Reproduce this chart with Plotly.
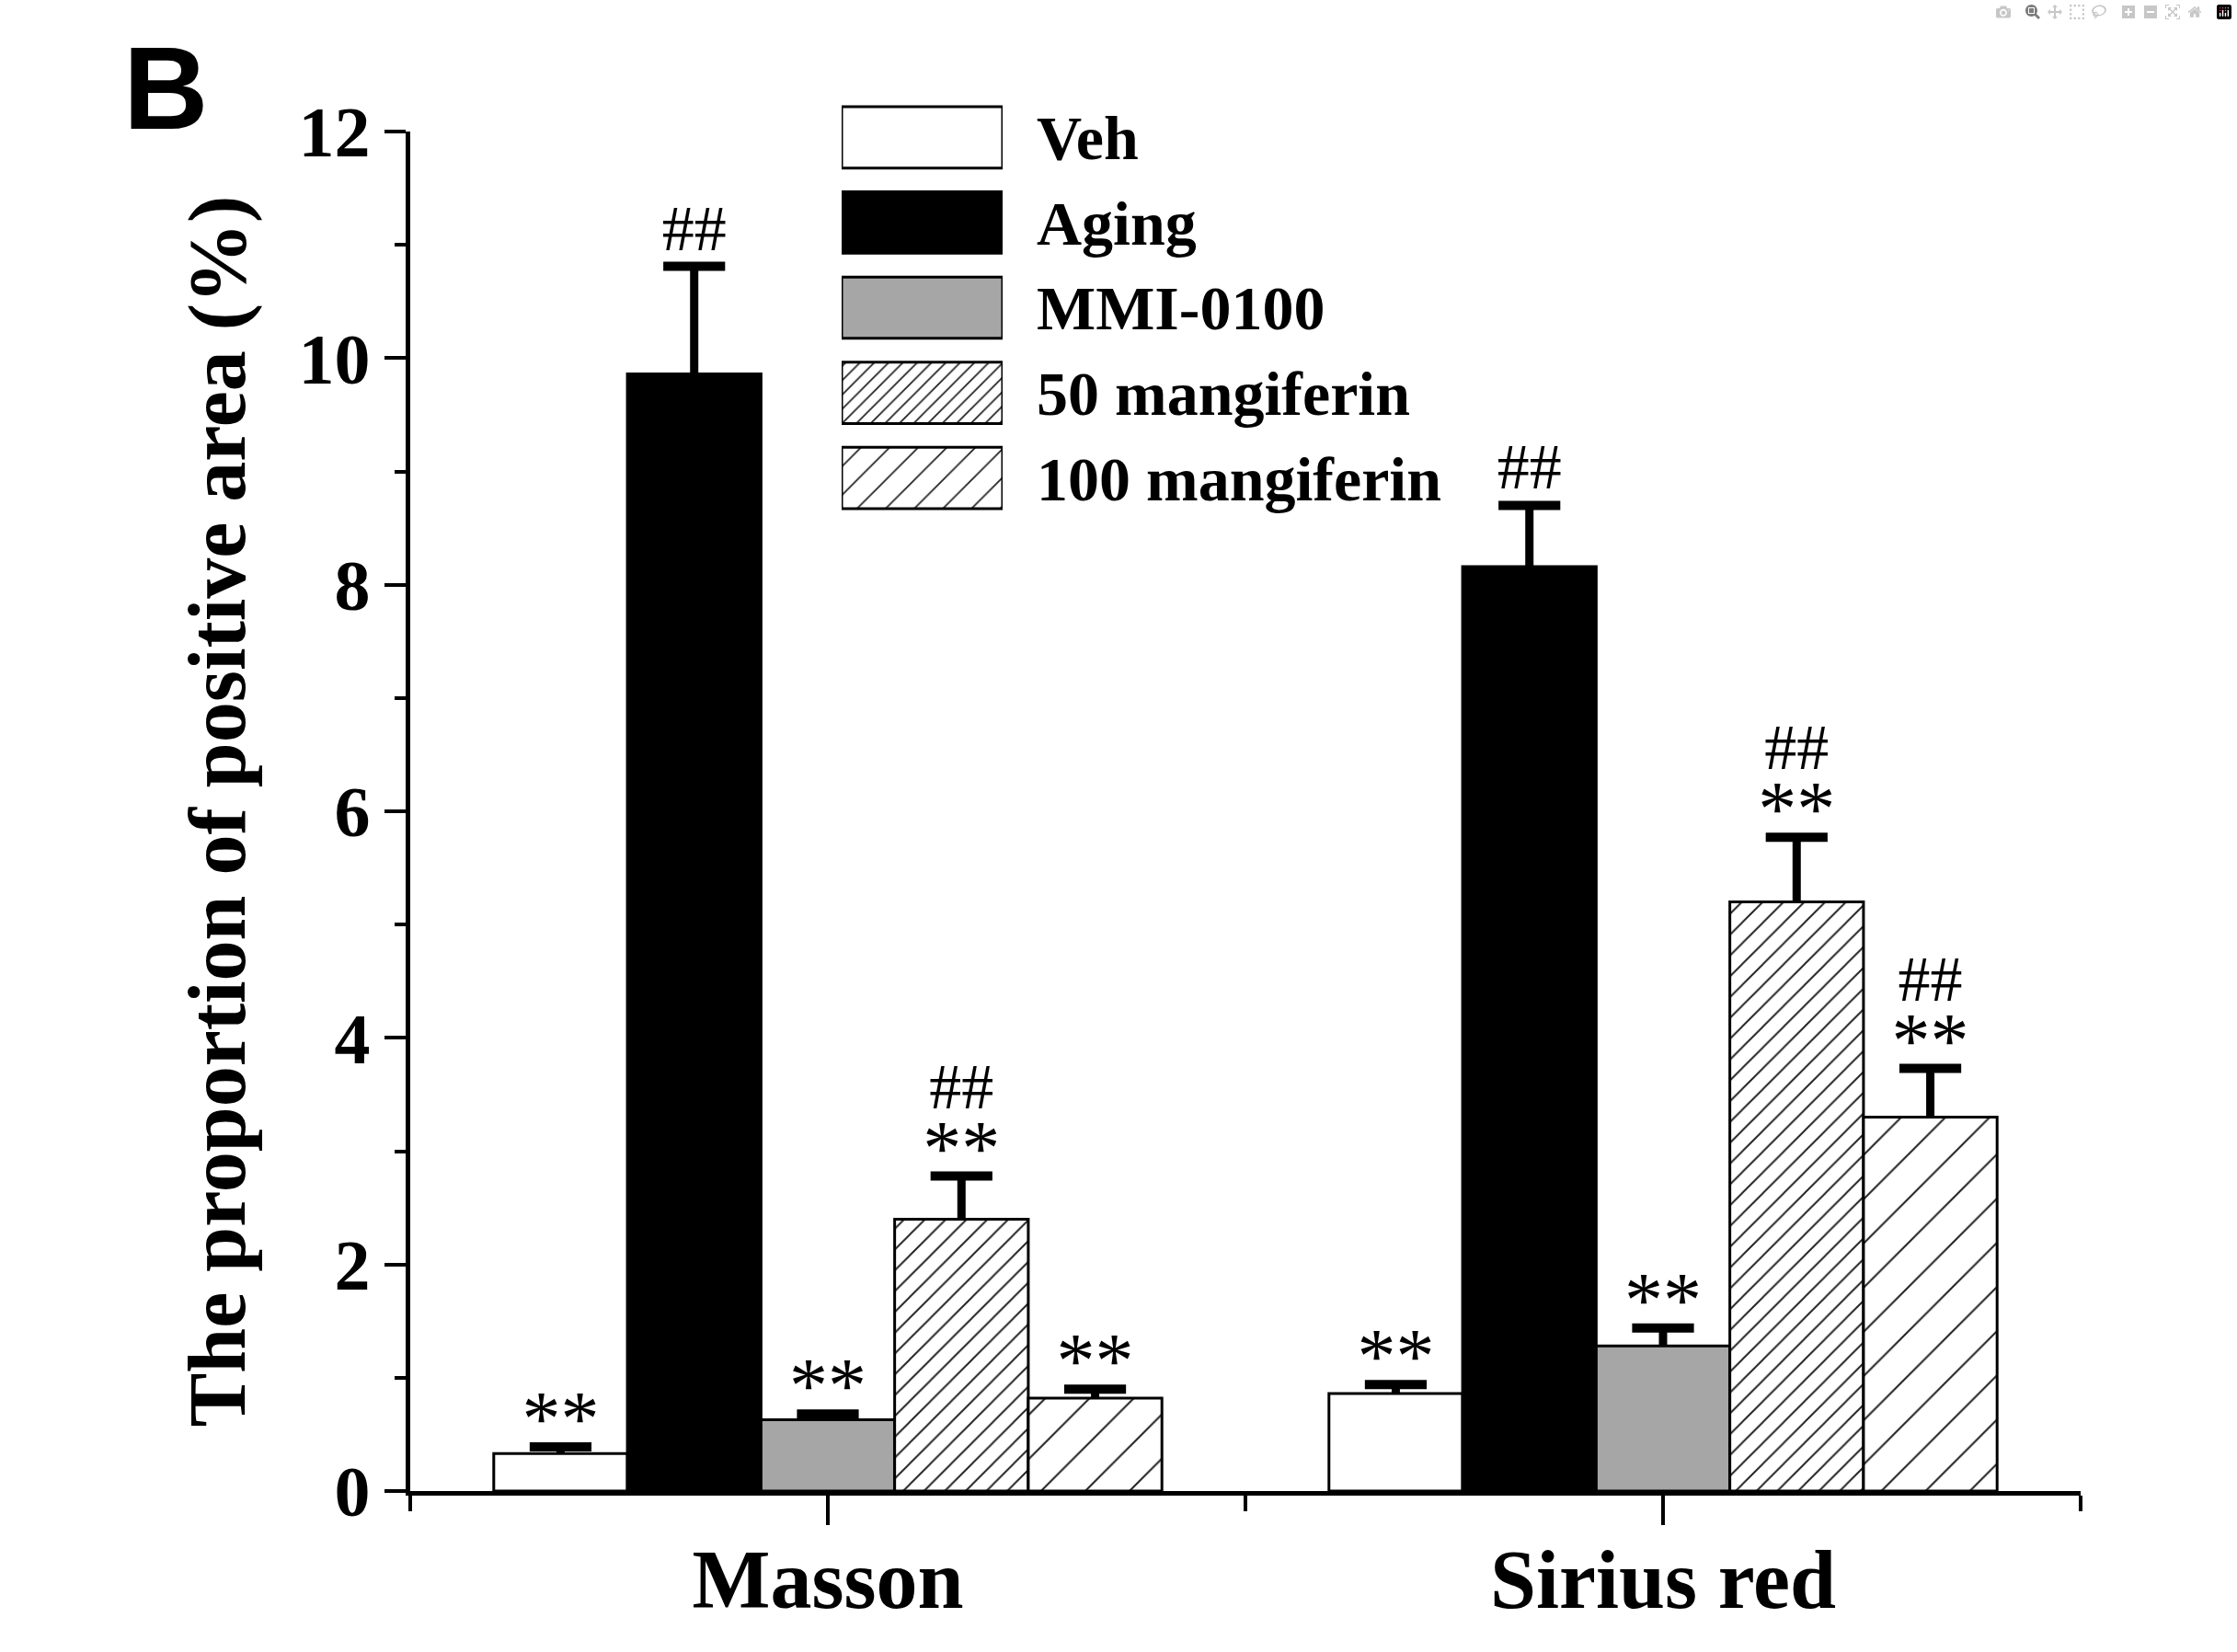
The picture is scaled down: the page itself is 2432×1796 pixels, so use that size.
import plotly.graph_objects as go

# ---------------- data ----------------
categories = ["Masson", "Sirius red"]
series_names = ["Veh", "Aging", "MMI-0100", "50 mangiferin", "100 mangiferin"]

veh = [0.33, 0.86]
veh_err = [0.06, 0.08]
aging = [9.86, 8.16]
aging_err = [0.95, 0.54]
mmi = [0.63, 1.28]
mmi_err = [0.05, 0.16]
mang50 = [2.40, 5.20]
mang50_err = [0.38, 0.57]
mang100 = [0.82, 3.30]
mang100_err = [0.08, 0.43]

# significance marks vs. aging ("**") and vs. vehicle ("##")
veh_star = ["**", "**"]
veh_hash = ["", ""]
aging_star = ["", ""]
aging_hash = ["##", "##"]
mmi_star = ["**", "**"]
mmi_hash = ["", ""]
mang50_star = ["**", "**"]
mang50_hash = ["##", "##"]
mang100_star = ["**", "**"]
mang100_hash = ["", "##"]

y_ticks = [0, 2, 4, 6, 8, 10, 12]

values = [veh, aging, mmi, mang50, mang100]
errors = [veh_err, aging_err, mmi_err, mang50_err, mang100_err]
stars = [veh_star, aging_star, mmi_star, mang50_star, mang100_star]
hashes = [veh_hash, aging_hash, mmi_hash, mang50_hash, mang100_hash]

# ---------------- styles ----------------
SERIF = "Liberation Serif"
fills = ["white", "black", "#a6a6a6", "white", "white"]
pat_shapes = ["", "", "", "/", "/"]
pat_sizes = [10, 10, 10, 16, 34]
pat_solid = [0.1, 0.1, 0.1, 0.12, 0.06]
leg_pat_sizes = [10, 10, 10, 11, 22]
leg_pat_solid = [0.1, 0.1, 0.1, 0.16, 0.08]

STAR_PX = 84
HASH_PX = 70
BASE_PX = 8
HASH_LIFT_ALONE = 18     # px from cap centre to "##" baseline (no "**" below)
HASH_LIFT_STACKED = 74   # px from cap centre to "##" baseline (above "**")


def lift_to_marker_size(lift):
    # plotly: text offset r = mrc/0.8 + 1 with mrc = size/2, baseline = -0.25*font - r
    r = lift - 0.25 * BASE_PX
    return max(2 * 0.8 * (r - 1), 0.5)


xi = list(range(len(categories)))

fig = go.Figure()

for k, name in enumerate(series_names):
    vals = values[k]
    errs = errors[k]
    tops = [v + e for v, e in zip(vals, errs)]
    pattern = None
    if pat_shapes[k]:
        pattern = dict(shape=pat_shapes[k], size=pat_sizes[k], solidity=pat_solid[k],
                       fgcolor="#222222", bgcolor="white", fillmode="replace")
    fig.add_trace(go.Bar(
        x=xi, y=vals, name=name, offsetgroup=name,
        marker=dict(color=fills[k], line=dict(color="black", width=3), pattern=pattern),
        showlegend=False,
    ))
    # error bar: stem from bar top up to the cap; cap = horizontal line marker
    fig.add_trace(go.Scatter(
        x=xi, y=tops, mode="markers", offsetgroup=name, name=name + " err",
        marker=dict(symbol="line-ew", size=48, color="black", line=dict(width=10, color="black")),
        error_y=dict(type="data", symmetric=False, array=[0] * len(errs), arrayminus=errs,
                     width=0, thickness=9, color="black"),
        showlegend=False, cliponaxis=False,
    ))
    # "**" row
    fig.add_trace(go.Scatter(
        x=xi, y=tops, mode="text", offsetgroup=name, name=name + " **",
        text=["<span style='font-size:%dpx'>%s</span>" % (STAR_PX, s) if s else "" for s in stars[k]],
        textposition="top center",
        textfont=dict(family=SERIF, size=BASE_PX, color="black"),
        showlegend=False, cliponaxis=False,
    ))
    # "##" row
    hash_sizes = [lift_to_marker_size(HASH_LIFT_STACKED if st else HASH_LIFT_ALONE)
                  for st in stars[k]]
    fig.add_trace(go.Scatter(
        x=xi, y=tops, mode="markers+text", offsetgroup=name, name=name + " ##",
        marker=dict(size=hash_sizes, opacity=0, color="white"),
        text=["<span style='font-size:%dpx'>%s</span>" % (HASH_PX, h) if h else "" for h in hashes[k]],
        textposition="top center",
        textfont=dict(family=SERIF, size=BASE_PX, color="black"),
        showlegend=False, cliponaxis=False,
    ))

# legend drawn as a small horizontal-bar subplot (one bar per series)
for k, name in enumerate(series_names):
    pattern = None
    if pat_shapes[k]:
        pattern = dict(shape=pat_shapes[k], size=leg_pat_sizes[k], solidity=leg_pat_solid[k],
                       fgcolor="#222222", bgcolor="white", fillmode="replace")
    fig.add_trace(go.Bar(
        x=[1], y=[name], orientation="h", width=0.72, offsetgroup="legend",
        xaxis="x2", yaxis="y2",
        marker=dict(color=fills[k], line=dict(color="black", width=3), pattern=pattern),
        showlegend=False, hoverinfo="skip",
    ))

W, H = 2432, 1796
ML, MR, MT, MB = 446, 170, 60, 175
plot_h = H - MT - MB


def py2paper(py):
    return (H - MB - py) / plot_h


def px2paper(px):
    return (px - ML) / (W - ML - MR)


fig.update_layout(
    width=W, height=H,
    margin=dict(l=ML, r=MR, t=MT, b=MB, pad=0),
    plot_bgcolor="white", paper_bgcolor="white",
    barmode="group", bargap=0.2, bargroupgap=0,
    scattermode="group", scattergap=0.2,
    font=dict(family=SERIF, color="black"),
    xaxis=dict(
        domain=[0, 1], anchor="y", range=[-0.5, len(categories) - 0.5],
        tickmode="array", tickvals=xi, ticktext=categories,
        ticks="outside", ticklen=32, tickwidth=4, tickcolor="black",
        minor=dict(tickmode="linear", tick0=-0.5, dtick=1, ticks="outside",
                   ticklen=17, tickwidth=4, tickcolor="black"),
        showline=True, linewidth=5, linecolor="black",
        showgrid=False, zeroline=False, automargin=False,
        tickfont=dict(family=SERIF, size=90, color="black", weight="bold"),
        ticklabelstandoff=-18,
    ),
    yaxis=dict(
        domain=[0, py2paper(143)], anchor="x", range=[0, 12],
        tickmode="array", tickvals=y_ticks,
        ticks="outside", ticklen=23, tickwidth=4, tickcolor="black",
        minor=dict(tickmode="linear", tick0=0, dtick=1, ticks="outside",
                   ticklen=12, tickwidth=4, tickcolor="black"),
        showline=True, linewidth=5, linecolor="black",
        showgrid=False, zeroline=False, automargin=False,
        tickfont=dict(family=SERIF, size=78, color="black", weight="bold"),
        ticklabelstandoff=0,
        title=dict(text="The proportion of positive area (%)", standoff=30,
                   font=dict(family=SERIF, size=88, color="black", weight="bold")),
    ),
    xaxis2=dict(
        domain=[px2paper(915), px2paper(1090)], anchor="y2", range=[0, 1],
        visible=False, fixedrange=True,
    ),
    yaxis2=dict(
        domain=[py2paper(566), py2paper(103)], anchor="x2",
        range=[len(series_names) - 0.5, -0.5], side="right",
        showline=False, showgrid=False, zeroline=False, ticks="",
        ticklabelstandoff=36, automargin=False,
        tickfont=dict(family=SERIF, size=68, color="black", weight="bold"),
    ),
    annotations=[dict(
        text="B", xref="paper", yref="paper",
        x=px2paper(132), y=py2paper(22), xanchor="left", yanchor="top",
        showarrow=False, font=dict(family="Liberation Sans", size=128, color="black", weight="bold"),
    )],
)

fig.write_html("out.html", post_script="document.body.style.margin='0';")
